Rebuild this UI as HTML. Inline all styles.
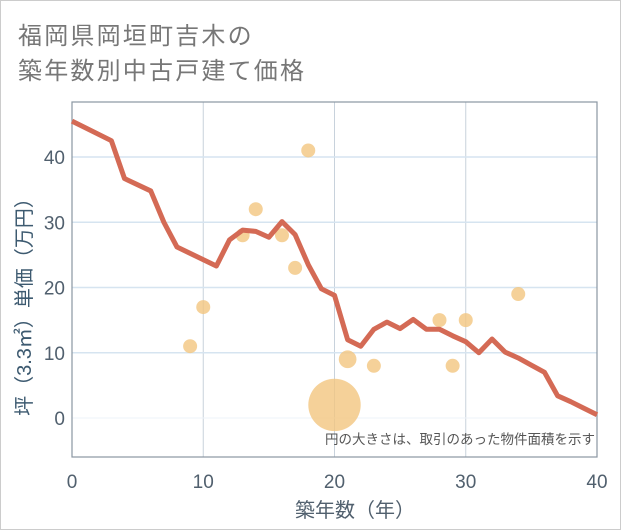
<!DOCTYPE html>
<html><head><meta charset="utf-8"><style>
body{margin:0;background:#fff;}
#wrap{position:relative;width:621px;height:530px;box-sizing:border-box;border:1px solid #ccc;background:#fff;font-family:"Liberation Sans","Noto Sans CJK JP",sans-serif;}
.t{position:absolute;left:17px;font-size:24px;letter-spacing:2.2px;color:#777;white-space:nowrap;}
</style></head><body>
<div id="wrap">
<div class="t" style="top:15px">福岡県岡垣町吉木の</div>
<div class="t" style="top:50px">築年数別中古戸建て価格</div>
<svg id="c" width="621" height="530" style="position:absolute;left:-1px;top:-1px"></svg>
</div>
<script>
const lineYears=[0,3,4,6,7,8,11,12,13,14,15,16,17,18,19,20,21,22,23,24,25,26,27,28,29,30,31,32,33,34,35,36,37,38,39,40];
const lineValues=[45.5,42.5,36.7,34.8,30,26.2,23.3,27.3,28.8,28.6,27.7,30.1,28.1,23.5,19.8,18.8,12,11,13.6,14.7,13.7,15.1,13.6,13.6,12.6,11.7,10,12.1,10.1,9.2,8.1,7,3.4,2.5,1.5,0.5];
const dotYears=[9,10,13,14,16,17,18,20,21,23,28,29,30,34];
const dotValues=[11,17,28,32,28,23,41,2,9,8,15,8,15,19];
const dotAreas=[1,1,1,1,1,1,1,14,1.6,1,1,1,1,1];
const xTicks=[0,10,20,30,40];
const yTicks=[0,10,20,30,40];
const NS='http://www.w3.org/2000/svg';
const svg=document.getElementById('c');
const L=72,R=597,T=102,B=457;
const X=v=>L+(v-0)/40*(R-L);
const Y=v=>418-(v)*6.525;
function el(tag,attrs,name,inter){const e=document.createElementNS(NS,tag);for(const k in attrs)e.setAttribute(k,attrs[k]);


svg.appendChild(e);return e;}
el('rect',{x:L,y:T,width:R-L,height:B-T,fill:'#fff'},'plot-area',false);
xTicks.forEach(t=>{el('line',{x1:X(t),x2:X(t),y1:T,y2:B,stroke:'#c8d2dc','stroke-width':1},'x-gridline',false);
const tx=el('text',{x:X(t),y:488,'text-anchor':'middle','font-size':19,fill:'#51606e'},'x-tick-label',false);tx.textContent=t;});
yTicks.forEach(t=>{el('line',{x1:L,x2:R,y1:Y(t),y2:Y(t),stroke:t===0?'#eef3f8':'#d6e4f0','stroke-width':t===0?1:1.5},'y-gridline',false);
const tx=el('text',{x:65,y:Y(t)+7,'text-anchor':'end','font-size':19,fill:'#51606e'},'y-tick-label',false);tx.textContent=t;});
el('rect',{x:L,y:T,width:R-L,height:B-T,fill:'none',stroke:'#8a96a2','stroke-width':1.2},'plot-border',false);
dotYears.forEach((yr,i)=>{el('circle',{cx:X(yr),cy:Y(dotValues[i]),r:7*Math.sqrt(dotAreas[i]),fill:'#f3c57f','fill-opacity':0.8},'scatter-point',true);});
el('polyline',{points:lineYears.map((yr,i)=>X(yr)+','+Y(lineValues[i])).join(' '),fill:'none',stroke:'#d46a55','stroke-width':5,'stroke-linejoin':'round'},'average-price-line',true);
const note=el('text',{x:595,y:444,'text-anchor':'end','font-size':13.5,fill:'#555'},'size-note',false);note.textContent='円の大きさは、取引のあった物件面積を示す';
const xt=el('text',{x:355,y:517,'text-anchor':'middle','font-size':20,fill:'#51606e'},'x-axis-title',false);xt.textContent='築年数（年）';
const yt=el('text',{x:0,y:0,'text-anchor':'middle','font-size':20,fill:'#3d5a70',transform:'translate(31,302) rotate(-90)'},'y-axis-title',false);yt.textContent='坪（3.3㎡）単価（万円）';
</script>
</body></html>
